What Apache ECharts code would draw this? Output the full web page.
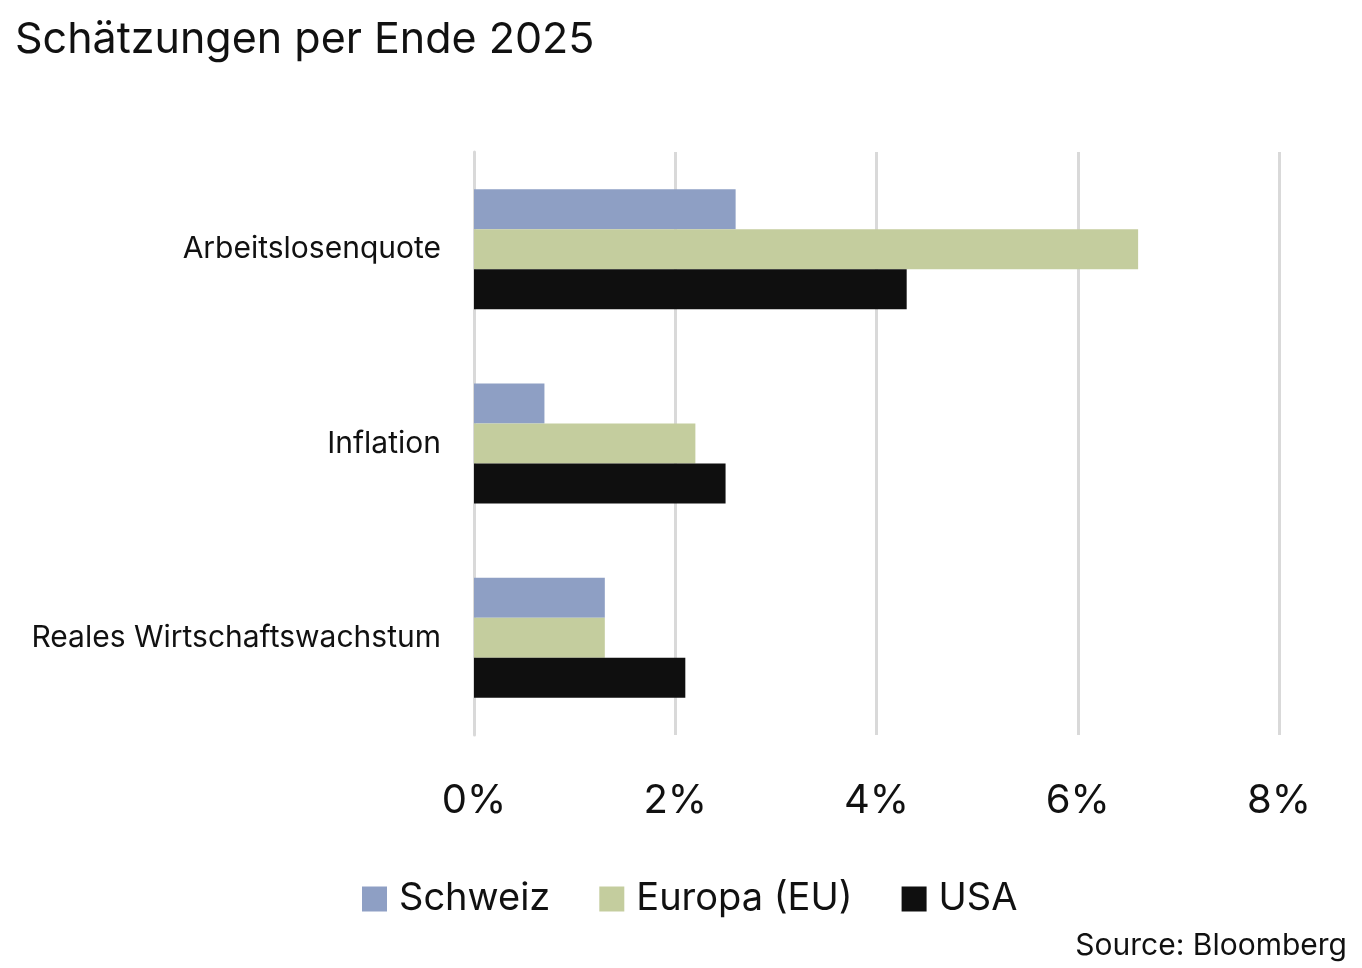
<!DOCTYPE html>
<html><head><meta charset="utf-8">
<script src="https://cdn.jsdelivr.net/npm/echarts@6/dist/echarts.min.js"></script>
<style>html,body{margin:0;padding:0;background:#fff}#c{width:1362px;height:968px}</style>
</head><body><div id="c"></div>
<script>
const categories = ['Arbeitslosenquote', 'Inflation', 'Reales Wirtschaftswachstum'];
const seriesNames = ['Schweiz', 'Europa (EU)', 'USA'];
const schweiz = [2.6, 0.7, 1.3];
const europa = [6.6, 2.2, 1.3];
const usa = [4.3, 2.5, 2.1];
const xTicks = [0, 2, 4, 6, 8];
const colors = ['#8e9fc4', '#c4cd9e', '#0f0f0f'];
const FONT = 'Inter';

const chart = echarts.init(document.getElementById('c'));
const values = [schweiz, europa, usa];
chart.setOption({
  animation: false,
  textStyle: { fontFamily: FONT },
  title: [{
    text: 'Schätzungen per Ende 2025', left: 10, top: 14,
    textStyle: { fontFamily: FONT, fontSize: 43, fontWeight: 'normal', color: '#111' }
  }, {
    text: 'Source: Bloomberg', right: 10, top: 926,
    textStyle: { fontFamily: FONT, fontSize: 30, fontWeight: 'normal', color: '#111' }
  }],
  legend: {
    data: seriesNames, top: 875, left: 357,
    icon: 'rect', itemWidth: 25, itemHeight: 25, itemGap: 49,
    textStyle: { fontFamily: FONT, fontSize: 38, color: '#111', padding: [0, 0, 0, 7] }
  },
  grid: { left: 474, right: 83, top: 152, bottom: 233, containLabel: false },
  xAxis: {
    type: 'value', min: xTicks[0], max: xTicks[xTicks.length - 1], interval: 2,
    axisLine: { show: false }, axisTick: { show: false },
    splitLine: { lineStyle: { color: '#d9d9d9', width: 3 } },
    axisLabel: { formatter: v => v + '%', fontSize: 40, color: '#111', margin: 46, fontFamily: FONT }
  },
  yAxis: {
    type: 'category', data: categories, inverse: true,
    axisLine: { show: true, lineStyle: { color: '#d9d9d9', width: 3 } },
    axisTick: { show: false },
    axisLabel: { fontSize: 30, color: '#111', margin: 33, fontFamily: FONT }
  },
  series: seriesNames.map((n, i) => ({
    name: n, type: 'bar', data: values[i], barWidth: 40, barGap: '0%',
    itemStyle: { color: colors[i] }
  }))
});
</script></body></html>
